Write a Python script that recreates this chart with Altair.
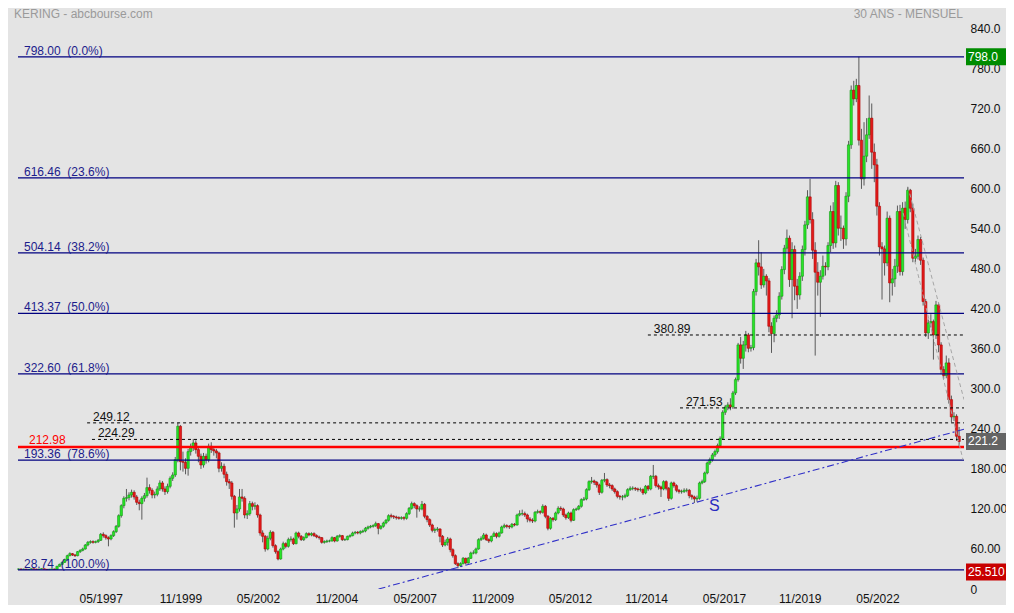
import altair as alt
import pandas as pd

FONT = "Liberation Sans"

# ---------------- data (monthly candles) ----------------
FIRST_OPEN = 29.8
closes = [
    30.0, 29.5, 29.8, 29.2, 29.5, 30.2, 29.8, 29.4, 29.9, 30.3, 29.6, 29.1, 29.7, 30.0, 29.3,
    34, 37, 40, 44, 50, 53, 51, 50, 56, 58, 60, 66, 70, 71, 70,
    71, 73, 82, 80, 77, 75, 80, 86, 94, 110, 125, 136, 137, 141, 145,
    138, 130, 128, 136, 140, 152, 148, 141, 142, 150,
    159, 150, 146, 154, 166, 171, 194, 244, 191, 190, 181, 206, 212, 219, 209,
    199, 186, 199, 194, 214, 209, 207, 204, 181, 184, 172, 161, 159, 139, 114,
    120, 138, 136, 111, 113, 128, 124, 125, 111, 84, 79, 60, 76, 85, 65,
    56, 45, 60, 68, 64, 74, 75, 68, 84, 79, 74, 77, 83, 81, 83,
    80, 78, 77, 70, 71, 72, 72, 77, 72, 79, 80, 74, 74, 79, 80,
    84, 85, 84, 86, 87, 91, 93, 94, 95, 98, 91, 94, 99, 103, 110,
    109, 108, 107, 106, 107, 106, 113, 121, 128, 125, 120, 120, 127, 109, 104,
    96, 88, 89, 90, 79, 66, 70, 75, 59, 50, 38, 35, 38, 46, 39,
    46, 54, 54, 60, 74, 76, 81, 74, 72, 79, 83, 79, 84, 93, 95,
    94, 93, 97, 96, 111, 113, 113, 111, 105, 103, 102, 115, 116, 115, 124,
    109, 91, 106, 104, 114, 121, 120, 111, 107, 114, 103, 119, 120, 124, 134,
    135, 149, 161, 162, 160, 156, 145, 163, 164, 156, 155, 150, 146, 139, 138,
    138, 140, 149, 151, 151, 150, 149, 149, 144, 154, 150, 169, 169, 155, 153,
    150, 161, 151, 136, 159, 155, 148, 146, 146, 148, 148, 140, 138, 135, 136,
    159, 161, 174, 189, 194, 201, 206, 215, 226, 265, 273, 276, 273, 294, 314,
    366, 346, 366, 381, 361, 362, 446, 489, 483, 456, 469, 462, 394, 383, 406,
    411, 439, 479, 511, 526, 464, 509, 454, 441, 469, 509, 546, 588, 554, 508,
    475, 460, 469, 484, 483, 515, 566, 519, 605, 541, 541, 525, 589, 666, 748,
    735, 755, 673, 615, 649, 681, 706, 655, 636, 574, 513, 510, 489, 556, 459,
    465, 484, 566, 476, 571, 554, 598, 571, 496, 499, 524, 493, 431, 384, 399,
    401, 381, 426, 366, 329, 320, 339, 284, 258, 259, 229, 221.2,
]
highs = [
    30.6, 30.4, 30.3, 30.1, 30.0, 30.8, 30.6, 30.2, 30.4, 30.9, 30.6, 29.9, 30.1, 30.5, 30.4,
    34.8, 38, 41, 45.5, 51.5, 55, 54, 52.5, 57, 59.5, 62, 67.5, 72, 73, 73,
    72.5, 75, 84, 85, 82, 79, 82, 88, 96, 112, 127, 139, 150, 145, 149,
    148, 141, 134, 139, 144, 167, 157, 151, 146, 154,
    163, 162, 154, 158, 169, 175, 198, 249.12, 246, 206, 196, 210, 218, 225, 223,
    213, 203, 204, 203, 218, 220, 213, 210, 206, 190, 188, 176, 165, 162, 141,
    126, 150, 150, 139, 118, 132, 131, 130, 127, 113, 88, 81, 80, 88, 87,
    67, 58, 62, 71, 70, 77, 79, 77, 86, 86, 81, 79, 85, 85, 85,
    85, 82, 80, 78, 73, 74, 74, 79, 78, 81, 82, 81, 76, 80, 82,
    86, 87, 87, 88, 89, 93, 95, 96, 97, 101, 99, 96, 101, 105, 112,
    113, 111, 110, 109, 109, 109, 115, 123, 131, 130, 127, 124, 132, 129, 111,
    106, 98, 92, 93, 91, 81, 74, 78, 77, 61, 52, 40, 40, 48, 47,
    48, 56, 58, 62, 76, 79, 84, 83, 76, 80, 86, 85, 86, 95, 98,
    97, 96, 99, 99, 113, 118, 119, 116, 113, 108, 106, 117, 119, 118, 127,
    126, 111, 108, 108, 116, 124, 124, 122, 113, 116, 116, 121, 122, 126, 136,
    138, 151, 163, 168, 164, 162, 158, 165, 174, 166, 159, 157, 152, 148, 141,
    141, 143, 151, 154, 154, 153, 152, 152, 151, 156, 156, 171, 186, 171, 158,
    155, 163, 163, 153, 161, 161, 157, 150, 149, 151, 151, 150, 142, 140, 140,
    161, 164, 176, 191, 197, 204, 209, 218, 229, 268, 276, 280, 286, 297, 317,
    369, 378, 372, 387, 384, 366, 450, 495, 523, 505, 480, 472, 466, 400, 410,
    418, 445, 484, 516, 539, 530, 520, 515, 465, 475, 515, 552, 598, 615, 565,
    520, 490, 478, 500, 490, 520, 575, 580, 612, 610, 560, 545, 595, 672, 755,
    762, 765, 798, 690, 700, 706, 740, 728, 668, 645, 580, 520, 515, 566, 560,
    480, 495, 575, 576, 580, 581, 603, 600, 578, 510, 530, 528, 497, 435, 404,
    412, 404, 432, 430, 370, 334, 350, 346, 290, 265, 262, 243,
]
lows = [
    29.2, 29.0, 29.1, 28.9, 28.9, 29.2, 29.3, 29.0, 29.1, 29.6, 29.2, 28.74, 28.9, 29.4, 29.0,
    29.1, 33.5, 36, 39, 43, 49, 49.5, 48, 49, 54, 56.5, 59, 64, 68, 68,
    68.5, 69, 72, 77, 74, 64, 73, 78, 84, 92, 107, 121, 131, 133, 137,
    134, 126, 118, 104, 131, 137, 143, 136, 136, 139,
    147, 146, 141, 143, 151, 162, 168, 190, 178, 176, 172, 170, 200, 207, 203,
    190, 180, 182, 188, 190, 204, 200, 196, 175, 176, 166, 155, 150, 134, 92,
    104, 116, 131, 106, 105, 110, 118, 119, 107, 80, 70, 56, 58, 73, 62,
    53, 43, 44, 58, 61, 62, 71, 66, 67, 76, 72, 72, 76, 79, 79,
    78, 76, 74, 68, 68, 69, 70, 71, 70, 71, 77, 72, 72, 73, 77,
    79, 82, 82, 82, 84, 85, 89, 91, 92, 93, 82, 89, 92, 97, 101,
    106, 105, 104, 104, 104, 103, 104, 111, 119, 121, 107, 116, 118, 106, 100,
    93, 85, 84, 86, 70, 63, 64, 65, 55, 47, 36, 31, 33, 37, 37,
    38, 45, 52, 52, 59, 72, 74, 72, 69, 70, 78, 76, 77, 83, 91,
    91, 90, 91, 94, 95, 109, 110, 108, 100, 100, 99, 100, 113, 112, 113,
    106, 88, 89, 101, 102, 112, 117, 108, 104, 105, 100, 102, 117, 118, 122,
    132, 133, 147, 158, 156, 152, 141, 143, 160, 153, 151, 147, 143, 136, 134,
    133, 136, 138, 147, 148, 147, 146, 146, 141, 142, 147, 148, 165, 152, 149,
    138, 148, 148, 132, 134, 152, 145, 143, 143, 144, 145, 136, 134, 129, 131,
    134, 157, 159, 172, 186, 191, 198, 203, 212, 224, 261, 268, 268, 270, 291,
    311, 338, 330, 356, 355, 356, 358, 440, 470, 450, 452, 440, 385, 354, 370,
    400, 405, 434, 472, 505, 453, 406, 433, 420, 434, 462, 500, 540, 548, 495,
    350, 440, 408, 464, 470, 478, 505, 510, 512, 530, 522, 510, 515, 580, 660,
    725, 730, 665, 600, 605, 640, 675, 630, 610, 560, 500, 434, 470, 484, 430,
    440, 453, 474, 470, 470, 540, 548, 565, 490, 490, 494, 486, 425, 378, 375,
    392, 344, 375, 355, 322, 315, 316, 278, 250, 252, 222, 212,
]

# Fibonacci retracement levels
fib_levels = [798.00, 616.46, 504.14, 413.37, 322.60, 193.36, 28.74]
fib_pcts = ["0.0%", "23.6%", "38.2%", "50.0%", "61.8%", "78.6%", "100.0%"]

# dotted support / resistance levels and the month index where each starts
dot_levels = [380.89, 271.53, 249.12, 224.29]
dot_starts = [244.9, 257.4, 26.7, 28.6]

red_level = 212.98

# price tags on the right axis
tag_values = [798.0, 221.2, 25.51]
tag_texts = ["798.0", "221.2", "25.510"]
tag_colors = ["#008c00", "#646464", "#c80000"]

# x axis tick positions (month index) and labels
x_tick_pos = [32.0, 63.0, 93.2, 123.7, 154.2, 184.4, 214.6, 244.2, 274.5, 304.0, 334.2]
x_tick_labels = ["05/1997", "11/1999", "05/2002", "11/2004", "05/2007", "11/2009",
                 "05/2012", "11/2014", "05/2017", "11/2019", "05/2022"]
y_ticks = list(range(0, 841, 60))

# rising support trend line (blue dash-dot)
trend_i = [140.1, 367.9]
trend_p = [0.0, 239.5]

# descending grey channel lines
chan_id = ["a", "a", "b", "b"]
chan_i = [344.2, 367.5, 346.1, 367.9]
chan_p = [564, 194, 603, 284]

# "S" annotation
s_i, s_p = 270.8, 124.7

# ---------------- layout ----------------
W, H = 946, 581
X_DOM = [-0.19, 367.9]
Y_DOM = [0, 871.2]
PPU = H / (Y_DOM[1] - Y_DOM[0])
NB = "\u00a0"

opens = [FIRST_OPEN] + closes[:-1]
df = pd.DataFrame({"i": list(range(len(closes))), "open": opens, "close": closes,
                   "high": highs, "low": lows})
df["dir"] = ["up" if c >= o else "down" for o, c in zip(df["open"], df["close"])]

xs = alt.Scale(domain=X_DOM, nice=False, zero=False)
ys = alt.Scale(domain=Y_DOM, nice=False, zero=False)

x_expr = ("[" + ",".join(f"'{s}'" for s in x_tick_labels) + "][indexof(["
          + ",".join(str(v) for v in x_tick_pos) + "], datum.value)]")
x_axis = alt.Axis(values=x_tick_pos, labelExpr=x_expr, ticks=False, domain=False, grid=False,
                  labelPadding=4, labelFontSize=12, labelFont=FONT, labelColor="#111111",
                  labelFlush=False, labelOverlap=False, title=None)
y_axis = alt.Axis(orient="right", values=y_ticks,
                  labelExpr="datum.value == 0 ? '0' : (datum.value >= 240 ? format(datum.value, '.1f') : format(datum.value, '.2f'))",
                  ticks=False, domain=False, grid=False, labelPadding=6, labelFontSize=12,
                  labelFont=FONT, labelColor="#111111", labelOverlap=False, title=None)


def X(field):
    return alt.X(field, scale=xs, axis=x_axis)


def Y(field):
    return alt.Y(field, scale=ys, axis=y_axis)


wicks = alt.Chart(df).mark_rule(color="#5a5a5a", strokeWidth=1).encode(
    x=X("i:Q"), y=Y("low:Q"), y2="high:Q")

bodies = alt.Chart(df).transform_calculate(
    xa="datum.i - 0.45", xb="datum.i + 0.45"
).mark_rect(strokeWidth=0.6).encode(
    x=X("xa:Q"), x2="xb:Q", y=Y("open:Q"), y2="close:Q",
    color=alt.Color("dir:N", scale=alt.Scale(domain=["up", "down"], range=["#27e627", "#e41b1b"]), legend=None),
    stroke=alt.Stroke("dir:N", scale=alt.Scale(domain=["up", "down"], range=["#139a13", "#b00000"]), legend=None),
)

fib_df = pd.DataFrame({"value": fib_levels,
                       "label": [f"{v:.2f}{NB}{NB}({p})" for v, p in zip(fib_levels, fib_pcts)]})
fib_lines = alt.Chart(fib_df).mark_rule(color="#000080", strokeWidth=1.2).encode(y=Y("value:Q"))
fib_text = alt.Chart(fib_df).mark_text(align="left", baseline="alphabetic", dy=-2, fontSize=12,
                                       font=FONT, color="#1c1c8c").encode(
    x=alt.value(6), y=Y("value:Q"), text="label:N")

red_df = pd.DataFrame({"value": [red_level], "label": [f"{red_level:.2f}"]})
red_line = alt.Chart(red_df).mark_rule(color="#ff0000", strokeWidth=2.6).encode(y=Y("value:Q"))
red_text = alt.Chart(red_df).mark_text(align="left", baseline="alphabetic", dy=-3, fontSize=12,
                                       font=FONT, color="#ff0000").encode(
    x=alt.value(11), y=Y("value:Q"), text="label:N")

dot_df = pd.DataFrame({"value": dot_levels, "start": dot_starts,
                       "label": [f"{v:.2f}" for v in dot_levels]})
dot_df["lx"] = dot_df["start"] + 2.3
dot_lines = alt.Chart(dot_df).mark_rule(color="#000000", strokeWidth=1, strokeDash=[3, 3]).encode(
    x=X("start:Q"), x2=alt.value(W), y=Y("value:Q"))
dot_text = alt.Chart(dot_df).mark_text(align="left", baseline="alphabetic", dy=-2, fontSize=12,
                                       font=FONT, color="#111111").encode(
    x=X("lx:Q"), y=Y("value:Q"), text="label:N")

trend_df = pd.DataFrame({"i": trend_i, "p": trend_p})
trend = alt.Chart(trend_df).mark_line(color="#3030c8", strokeWidth=1.1, strokeDash=[7, 3, 2, 3],
                                      clip=True).encode(x=X("i:Q"), y=Y("p:Q"))

chan_df = pd.DataFrame({"id": chan_id, "i": chan_i, "p": chan_p})
chan = alt.Chart(chan_df).mark_line(color="#a6a6a6", strokeWidth=1, strokeDash=[4, 3],
                                    clip=True).encode(x=X("i:Q"), y=Y("p:Q"), detail="id:N")

s_df = pd.DataFrame({"i": [s_i], "p": [s_p], "t": ["S"]})
s_text = alt.Chart(s_df).mark_text(fontSize=16, font=FONT, color="#2a2ac0").encode(
    x=X("i:Q"), y=Y("p:Q"), text="t:N")

half = 8.5 / PPU
tag_df = pd.DataFrame({"value": tag_values, "text": tag_texts, "color": tag_colors})
tag_df["top"] = tag_df["value"] + half
tag_df["bot"] = tag_df["value"] - half
tag_rect = alt.Chart(tag_df).mark_rect().encode(
    x=alt.value(W + 2), x2=alt.value(W + 60),
    y=Y("top:Q"), y2="bot:Q",
    color=alt.Color("color:N", scale=None))
tag_text = alt.Chart(tag_df).mark_text(align="left", baseline="middle", fontSize=12, font=FONT,
                                       color="#ffffff").encode(
    x=alt.value(W + 4), y=Y("value:Q"), text="text:N")

title_df = pd.DataFrame({"t": ["KERING - abcbourse.com"]})
title_l = alt.Chart(title_df).mark_text(align="left", baseline="top", fontSize=12, font=FONT,
                                        color="#9a9a9a").encode(
    x=alt.value(-4), y=alt.value(1), text="t:N")
title_r_df = pd.DataFrame({"t": ["30 ANS - MENSUEL"]})
title_r = alt.Chart(title_r_df).mark_text(align="right", baseline="top", fontSize=12, font=FONT,
                                          color="#9a9a9a").encode(
    x=alt.value(W - 1), y=alt.value(1), text="t:N")

chart = alt.layer(
    wicks, bodies, fib_lines, red_line, dot_lines, trend, chan,
    fib_text, red_text, dot_text, s_text, tag_rect, tag_text, title_l, title_r,
).properties(
    width=W, height=H,
    padding={"left": 10, "top": 0, "right": 42, "bottom": 16},
    autosize=alt.AutoSizeParams(type="none"),
    background="#e4e4e4",
).configure_view(stroke=None, fill="#e4e4e4")

chart.save("out.html", embed_options={"renderer": "svg", "actions": False})
